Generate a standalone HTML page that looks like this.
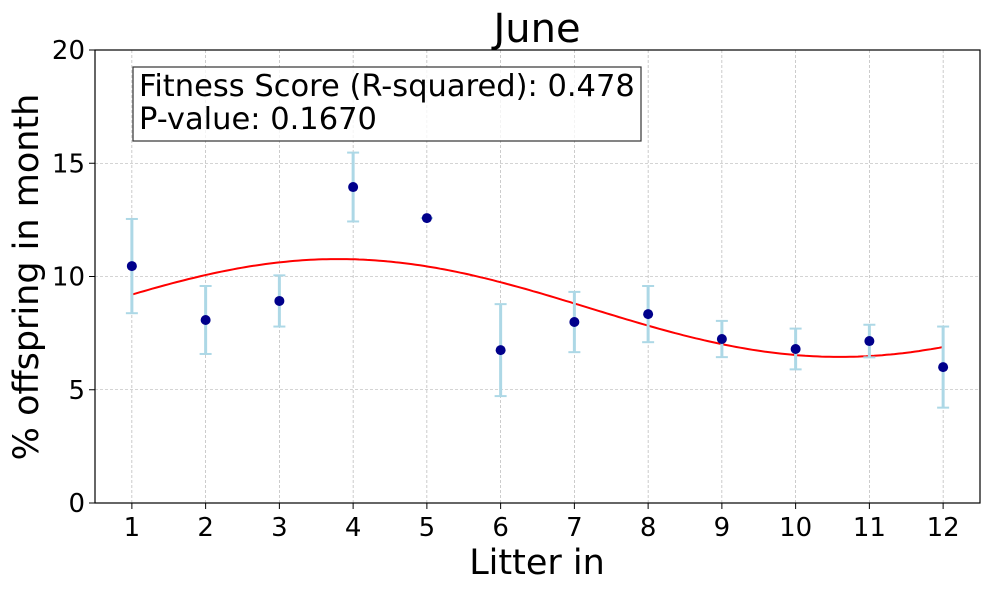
<!DOCTYPE html>
<html><head><meta charset="utf-8"><style>
body{margin:0;background:#fff;}
svg text{font-family:"DejaVu Sans","Liberation Sans",sans-serif;}
</style></head><body>
<svg id="chart" width="989" height="590" xmlns="http://www.w3.org/2000/svg">
<rect width="989" height="590" fill="#fff"/>
<g id="grid"></g>
<g id="fit"></g>
<g id="marks"></g>
<rect x="95" y="50" width="885" height="453" fill="none" stroke="#000" stroke-width="1.2"/>
<g id="ticks"></g>
<text x="537" y="42" font-size="40" text-anchor="middle">June</text>
<text x="537" y="574" font-size="35" text-anchor="middle">Litter in</text>
<text transform="translate(38,277) rotate(-90)" font-size="35" text-anchor="middle">% offspring in month</text>
<g>
<rect x="133" y="67" width="508" height="74" fill="#fff" fill-opacity="0.8" stroke="#333" stroke-width="1.2"/>
<text x="139" y="96" font-size="30.5">Fitness Score (R-squared): 0.478</text>
<text x="139" y="129" font-size="30.5">P-value: 0.1670</text>
</g>
</svg>
<script>
const litters=[1,2,3,4,5,6,7,8,9,10,11,12];
const values=[10.46,8.08,8.92,13.95,12.58,6.75,7.99,8.34,7.24,6.8,7.15,6.0];
const errors=[2.08,1.5,1.13,1.52,0,2.03,1.33,1.24,0.8,0.9,0.72,1.79];
const yTicks=[0,5,10,15,20];
const fitParams=[2.16,6.8,3.8,8.61]; // amplitude, half-period, peak x, mean
const NS="http://www.w3.org/2000/svg";
const X=v=>95+(v-0.5)*(885/12);
const Y=v=>503-v*(453/20);
function mk(t,a,p){const e=document.createElementNS(NS,t);for(const k in a)e.setAttribute(k,a[k]);p.appendChild(e);return e;}
const grid=document.getElementById('grid'),ticks=document.getElementById('ticks'),marks=document.getElementById('marks'),fit=document.getElementById('fit');
litters.forEach(v=>{
 const g=mk('line',{x1:X(v),x2:X(v),y1:50,y2:503,stroke:'#aaa','stroke-width':0.6,'stroke-dasharray':'3,2'},grid);
 
 const t=mk('line',{x1:X(v),x2:X(v),y1:503,y2:509,stroke:'#000'},ticks);
 
 const l=mk('text',{x:X(v),y:536,'font-size':26,'text-anchor':'middle'},ticks);l.textContent=v;
 
});
yTicks.forEach(v=>{
 const g=mk('line',{x1:95,x2:980,y1:Y(v),y2:Y(v),stroke:'#aaa','stroke-width':0.6,'stroke-dasharray':'3,2'},grid);
 
 const t=mk('line',{x1:89,x2:95,y1:Y(v),y2:Y(v),stroke:'#000'},ticks);
 
 const l=mk('text',{x:85,y:Y(v)+9,'font-size':26,'text-anchor':'end'},ticks);l.textContent=v;
 
});
let d='';
for(let i=0;i<=200;i++){const x=1+11*i/200;const y=fitParams[3]+fitParams[0]*Math.cos(Math.PI*(x-fitParams[2])/fitParams[1]);d+=(i?'L':'M')+X(x).toFixed(1)+','+Y(y).toFixed(1);}
const p=mk('path',{d:d,fill:'none',stroke:'red','stroke-width':2},fit);

litters.forEach((v,i)=>{
 const x=X(v),y=values[i],e=errors[i];
 const eb=mk('g',{stroke:'#add8e6','stroke-width':3},marks);
 
 mk('line',{x1:x,x2:x,y1:Y(y-e),y2:Y(y+e)},eb);
 mk('line',{x1:x-6,x2:x+6,y1:Y(y-e),y2:Y(y-e),'stroke-width':2},eb);
 mk('line',{x1:x-6,x2:x+6,y1:Y(y+e),y2:Y(y+e),'stroke-width':2},eb);
 const c=mk('circle',{cx:x,cy:Y(y),r:5,fill:'#00008b'},marks);
 
});
</script>
</body></html>
